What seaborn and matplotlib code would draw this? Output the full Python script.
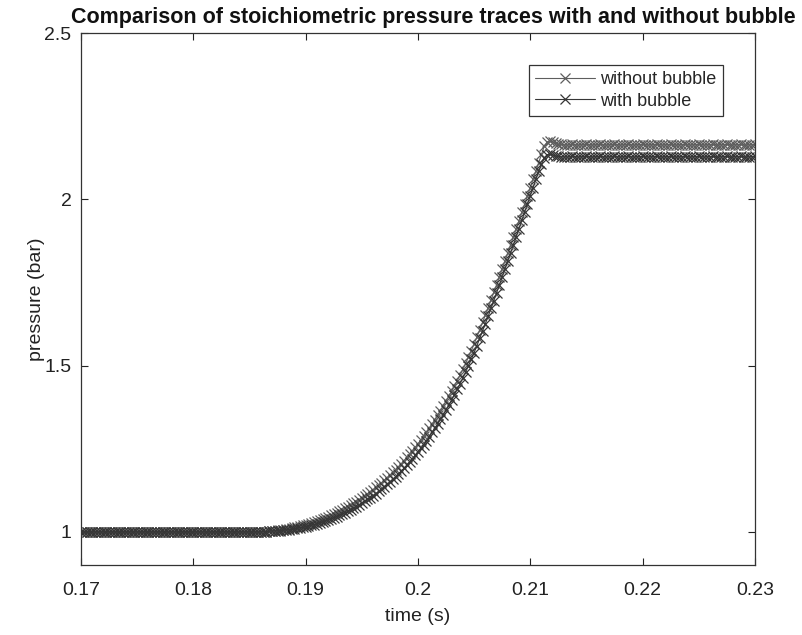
import numpy as np
import pandas as pd
import matplotlib
matplotlib.use("Agg")
import matplotlib.pyplot as plt
import seaborn as sns

# ---- data ----
# sampling every 0.25 ms from 0.17 s to 0.23 s (241 samples)
time = np.round(np.arange(0, 241) * 0.00025 + 0.17, 5)

without_bubble = [
    # 0.1700 .. 0.1855 s : flat
    1.000, 1.000, 1.000, 1.000, 1.000, 1.000, 1.000,
    1.000, 1.000, 1.000, 1.000, 1.000, 1.000, 1.000,
    1.000, 1.000, 1.000, 1.000, 1.000, 1.000, 1.000,
    1.000, 1.000, 1.000, 1.000, 1.000, 1.000, 1.000,
    1.000, 1.000, 1.000, 1.000, 1.000, 1.000, 1.000,
    1.000, 1.000, 1.000, 1.000, 1.000, 1.000, 1.000,
    1.000, 1.000, 1.000, 1.000, 1.000, 1.000, 1.000,
    1.000, 1.000, 1.000, 1.000, 1.000, 1.000, 1.000,
    1.000, 1.000, 1.000, 1.000, 1.000, 1.000, 1.000,
    # 0.18575 .. 0.21275 s : rise
    1.000, 1.000, 1.001, 1.001, 1.002, 1.003, 1.004, 1.005, 1.006, 1.007,
    1.009, 1.010, 1.012, 1.014, 1.016, 1.018, 1.020, 1.022, 1.025, 1.027,
    1.030, 1.033, 1.036, 1.039, 1.043, 1.046, 1.050, 1.054, 1.058, 1.062,
    1.067, 1.071, 1.076, 1.081, 1.086, 1.091, 1.097, 1.103, 1.109, 1.115,
    1.121, 1.127, 1.134, 1.141, 1.148, 1.155, 1.163, 1.171, 1.179, 1.187,
    1.196, 1.205, 1.214, 1.224, 1.234, 1.244, 1.254, 1.265, 1.276, 1.287,
    1.299, 1.311, 1.324, 1.337, 1.350, 1.364, 1.378, 1.393, 1.408, 1.423,
    1.439, 1.455, 1.472, 1.489, 1.507, 1.526, 1.545, 1.565, 1.586, 1.608,
    1.630, 1.652, 1.674, 1.697, 1.720, 1.743, 1.767, 1.791, 1.815, 1.839,
    1.863, 1.887, 1.912, 1.936, 1.961, 1.985, 2.010, 2.035, 2.060, 2.085,
    2.110, 2.135, 2.160, 2.172, 2.176, 2.172, 2.168, 2.166, 2.165,
    # 0.2130 .. 0.2300 s : plateau
    2.164, 2.163, 2.164, 2.165, 2.164, 2.163, 2.164, 2.164, 2.165, 2.164,
    2.163, 2.164, 2.164, 2.165, 2.164, 2.163, 2.164, 2.164, 2.165, 2.164,
    2.163, 2.164, 2.164, 2.165, 2.164, 2.163, 2.164, 2.164, 2.165, 2.164,
    2.163, 2.164, 2.164, 2.165, 2.164, 2.163, 2.164, 2.164, 2.165, 2.164,
    2.163, 2.164, 2.164, 2.165, 2.164, 2.163, 2.164, 2.164, 2.165, 2.164,
    2.163, 2.164, 2.164, 2.165, 2.164, 2.163, 2.164, 2.164, 2.165, 2.164,
    2.163, 2.164, 2.164, 2.165, 2.164, 2.163, 2.164, 2.164, 2.165,
]

with_bubble = [
    # 0.1700 .. 0.1855 s : flat
    1.000, 1.000, 1.000, 1.000, 1.000, 1.000, 1.000,
    1.000, 1.000, 1.000, 1.000, 1.000, 1.000, 1.000,
    1.000, 1.000, 1.000, 1.000, 1.000, 1.000, 1.000,
    1.000, 1.000, 1.000, 1.000, 1.000, 1.000, 1.000,
    1.000, 1.000, 1.000, 1.000, 1.000, 1.000, 1.000,
    1.000, 1.000, 1.000, 1.000, 1.000, 1.000, 1.000,
    1.000, 1.000, 1.000, 1.000, 1.000, 1.000, 1.000,
    1.000, 1.000, 1.000, 1.000, 1.000, 1.000, 1.000,
    1.000, 1.000, 1.000, 1.000, 1.000, 1.000, 1.000,
    # 0.18575 .. 0.21275 s : rise
    1.000, 1.000, 1.001, 1.001, 1.002, 1.003, 1.003, 1.004, 1.004, 1.005,
    1.006, 1.007, 1.008, 1.010, 1.011, 1.013, 1.014, 1.016, 1.018, 1.020,
    1.022, 1.025, 1.027, 1.030, 1.033, 1.036, 1.039, 1.043, 1.046, 1.050,
    1.054, 1.058, 1.062, 1.067, 1.071, 1.076, 1.081, 1.087, 1.092, 1.098,
    1.103, 1.109, 1.115, 1.122, 1.128, 1.135, 1.143, 1.150, 1.158, 1.165,
    1.174, 1.183, 1.191, 1.201, 1.211, 1.220, 1.230, 1.241, 1.252, 1.262,
    1.274, 1.286, 1.299, 1.312, 1.325, 1.338, 1.352, 1.367, 1.382, 1.397,
    1.413, 1.429, 1.446, 1.463, 1.481, 1.500, 1.519, 1.539, 1.560, 1.582,
    1.604, 1.626, 1.648, 1.672, 1.695, 1.718, 1.742, 1.766, 1.790, 1.814,
    1.838, 1.863, 1.888, 1.912, 1.937, 1.961, 1.986, 2.011, 2.035, 2.060,
    2.084, 2.105, 2.125, 2.134, 2.136, 2.133, 2.130, 2.129, 2.128,
    # 0.2130 .. 0.2300 s : plateau
    2.128, 2.127, 2.128, 2.129, 2.128, 2.127, 2.128, 2.128, 2.129, 2.128,
    2.127, 2.128, 2.128, 2.129, 2.128, 2.127, 2.128, 2.128, 2.129, 2.128,
    2.127, 2.128, 2.128, 2.129, 2.128, 2.127, 2.128, 2.128, 2.129, 2.128,
    2.127, 2.128, 2.128, 2.129, 2.128, 2.127, 2.128, 2.128, 2.129, 2.128,
    2.127, 2.128, 2.128, 2.129, 2.128, 2.127, 2.128, 2.128, 2.129, 2.128,
    2.127, 2.128, 2.128, 2.129, 2.128, 2.127, 2.128, 2.128, 2.129, 2.128,
    2.127, 2.128, 2.128, 2.129, 2.128, 2.127, 2.128, 2.128, 2.129,
]

series_names = ["without bubble", "with bubble"]
series_colors = ["#5e5e5e", "#363636"]
x_ticks = [0.17, 0.18, 0.19, 0.20, 0.21, 0.22, 0.23]
x_tick_labels = ["0.17", "0.18", "0.19", "0.2", "0.21", "0.22", "0.23"]
y_ticks = [1.0, 1.5, 2.0, 2.5]
y_tick_labels = ["1", "1.5", "2", "2.5"]

df = pd.DataFrame({
    "time": np.concatenate([time, time]),
    "pressure": without_bubble + with_bubble,
    "series": [series_names[0]] * len(time) + [series_names[1]] * len(time),
})

# ---- style ----
sns.set_style("ticks")
plt.rcParams["font.family"] = ["Liberation Sans", "DejaVu Sans"]

fig = plt.figure(figsize=(8.03, 6.35), dpi=100)
ax = fig.add_axes([0.101, 0.110, 0.839, 0.838])

sns.lineplot(
    data=df, x="time", y="pressure", hue="series",
    palette=dict(zip(series_names, series_colors)),
    marker="x", markersize=6.5, markeredgewidth=0.9, linewidth=0.8,
    estimator=None, sort=False, ax=ax,
)
for line in ax.lines:
    line.set_markeredgecolor(line.get_color())

ax.set_xlim(0.17, 0.23)
ax.set_ylim(0.9, 2.5)
ax.set_xticks(x_ticks)
ax.set_xticklabels(x_tick_labels)
ax.set_yticks(y_ticks)
ax.set_yticklabels(y_tick_labels)
ax.tick_params(direction="in", top=True, right=True, length=5, width=0.8,
               labelsize=14, colors="#222222")
ax.tick_params(axis="x", pad=12)
ax.tick_params(axis="y", pad=7)
for s in ax.spines.values():
    s.set_visible(True)
    s.set_color("#333333")
    s.set_linewidth(0.9)

ax.set_xlabel("time (s)", fontsize=14, color="#222222")
ax.set_ylabel("pressure (bar)", fontsize=14, color="#222222")
ax.xaxis.set_label_coords(0.5, -0.080)
ax.yaxis.set_label_coords(-0.054, 0.5)
fig.text(0.540, 0.972, "Comparison of stoichiometric pressure traces with and without bubble",
         ha="center", va="center", fontsize=15.5, fontweight="bold", color="#111111")

leg = ax.legend(loc="upper right", bbox_to_anchor=(0.966, 0.957), fontsize=13,
                frameon=True, fancybox=False, edgecolor="#333333", framealpha=1,
                handlelength=3.3, borderpad=0.35, labelspacing=0.25, handletextpad=0.3)
leg.get_frame().set_linewidth(0.9)
for h in leg.legend_handles:
    h.set_markeredgecolor(h.get_color())

fig.savefig("out.png", dpi=100)
